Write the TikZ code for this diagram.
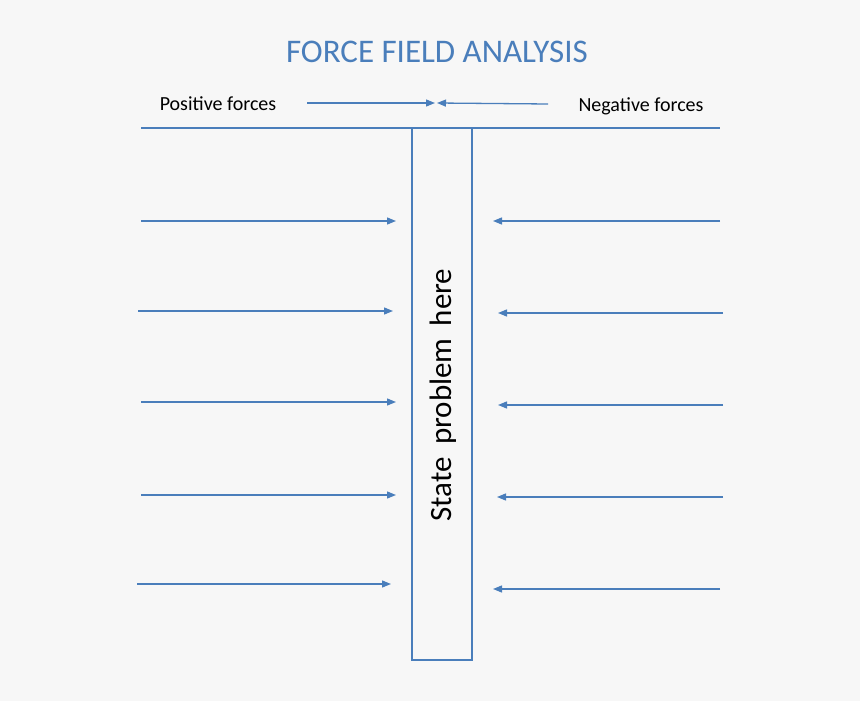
\documentclass[tikz,border=0pt]{standalone}
\usepackage{fontspec}
\setmainfont{Carlito}
\usetikzlibrary{arrows.meta}
\definecolor{bl}{HTML}{4A7EBB}
\definecolor{bg}{HTML}{F7F7F7}
\begin{document}
\begin{tikzpicture}[x=1pt,y=-1pt,
  arr/.style={draw=bl,line width=1.3pt,-{Triangle[length=9pt,width=7pt]}},
  lbl/.style={font=\fontsize{20}{24}\selectfont,anchor=center,inner sep=0}]
\fill[bg] (0,0) rectangle (860,701);
\useasboundingbox (0,0) rectangle (860,701);
\node[font=\fontsize{33}{38}\selectfont,text=bl] (title) at (437,52) {FORCE FIELD ANALYSIS};
\node[lbl] (pos) at (218,104) {Positive forces};
\node[lbl] (neg) at (641,106) {Negative forces};
\coordinate (tl) at (141,128); \coordinate (tr) at (720,128);
\draw[bl,line width=1.3pt] (tl) -- (tr);
\node[draw=bl,line width=1.3pt,minimum width=60pt,minimum height=532pt,inner sep=0] (box) at (442,394) {};
\node[rotate=90,font=\fontsize{31}{36}\selectfont] (prob) at (443,395) {State\, problem\, here};
\coordinate (p1) at (307,103); \coordinate (p2) at (435,103);
\coordinate (n1) at (548,104); \coordinate (n2) at (437,103);
\draw[arr] (p1) -- (p2);
\draw[arr] (n1) -- (n2);
\foreach \i/\xa/\xb/\y in {1/141/396/221,2/138/393/311,3/141/396/402,4/141/396/495,5/137/391/584}{
  \coordinate (la\i) at (\xa,\y); \coordinate (lb\i) at (\xb,\y);
  \draw[arr] (la\i) -- (lb\i);}
\foreach \i/\xa/\xb/\y in {1/720/493/221,2/723/498/313,3/723/498/405,4/723/497/497,5/720/493/589}{
  \coordinate (ra\i) at (\xa,\y); \coordinate (rb\i) at (\xb,\y);
  \draw[arr] (ra\i) -- (rb\i);}
\end{tikzpicture}
\end{document}
